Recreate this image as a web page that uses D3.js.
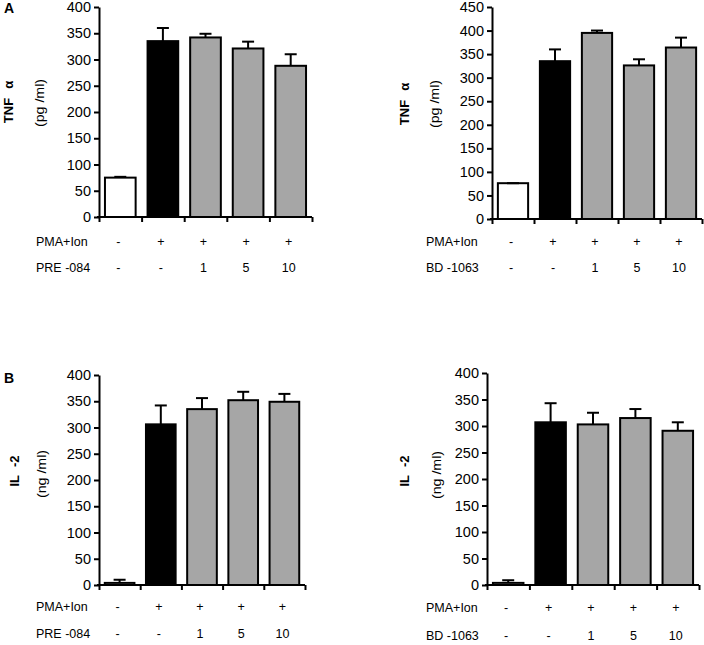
<!DOCTYPE html>
<html>
<head>
<meta charset="utf-8">
<script src="https://cdn.jsdelivr.net/npm/d3@7"></script>
<style>
  body { margin: 0; background: #fff; }
  svg text { font-family: "Liberation Sans", Arial, sans-serif; fill: #000; }
</style>
</head>
<body>
<svg id="chart" width="704" height="645"></svg>
<script>
// row labels under each chart
var pmaRow = ["-", "+", "+", "+", "+"];
var doseRow = ["-", "-", "1", "5", "10"];

// TNF alpha (pg/ml)
var tnfPre = [75, 335, 342, 321, 288];
var tnfPreErr = [1.5, 25, 7, 13, 22];
var tnfBd = [76, 335, 395, 326, 364];
var tnfBdErr = [0, 25, 5, 13, 21];

// IL-2 (ng/ml)
var il2Pre = [4, 306, 335, 352, 349];
var il2PreErr = [6, 36, 21, 16, 15];
var il2Bd = [4, 307, 303, 315, 291];
var il2BdErr = [5, 36, 22, 17, 16];

var barFill = ["#ffffff", "#000000", "#a6a6a6", "#a6a6a6", "#a6a6a6"];

var svg = d3.select("#chart");

function panel(p) {
    var g = svg.append("g");

    var x = d3.scaleBand()
        .domain(d3.range(5))
        .range([p.x0, p.x1])
        .paddingInner(0.28)
        .paddingOuter(0.14);

    var xt = d3.scaleLinear().domain([0, 5]).range([p.x0, p.x1]);

    var y = d3.scaleLinear()
        .domain([0, p.yMax])
        .range([p.yBottom, p.yTop]);

    // bars
    g.selectAll("rect.bar")
        .data(p.values)
        .enter()
        .append("rect")
        .attr("class", "bar")
        .attr("x", function(d, i) { return x(i); })
        .attr("y", function(d) { return y(d); })
        .attr("width", x.bandwidth())
        .attr("height", function(d) { return y(0) - y(d); })
        .attr("fill", function(d, i) { return barFill[i]; })
        .attr("stroke", "#000")
        .attr("stroke-width", 2);

    // error bars (upper only)
    var err = g.selectAll("g.err")
        .data(p.values)
        .enter()
        .append("g")
        .attr("class", "err");

    err.append("line")
        .attr("x1", function(d, i) { return x(i) + x.bandwidth() / 2; })
        .attr("x2", function(d, i) { return x(i) + x.bandwidth() / 2; })
        .attr("y1", function(d) { return y(d); })
        .attr("y2", function(d, i) { return y(d + p.errs[i]); })
        .attr("stroke", "#000")
        .attr("stroke-width", 2);

    err.append("line")
        .attr("x1", function(d, i) { return x(i) + x.bandwidth() / 2 - 6; })
        .attr("x2", function(d, i) { return x(i) + x.bandwidth() / 2 + 6; })
        .attr("y1", function(d, i) { return y(d + p.errs[i]); })
        .attr("y2", function(d, i) { return y(d + p.errs[i]); })
        .attr("stroke", "#000")
        .attr("stroke-width", 2);

    // y axis
    var yAxis = g.append("g")
        .attr("transform", "translate(" + p.x0 + ",0)")
        .call(d3.axisLeft(y)
            .tickValues(d3.range(0, p.yMax + 1, 50))
            .tickSize(5)
            .tickSizeOuter(0)
            .tickPadding(3));
    yAxis.selectAll("path, line").attr("stroke", "#000").attr("stroke-width", 2);
    yAxis.selectAll("text").style("font-size", "14.5px").attr("font-family", null);

    // x axis with ticks at band edges
    var xAxis = g.append("g")
        .attr("transform", "translate(0," + p.yBottom + ")")
        .call(d3.axisBottom(xt)
            .tickValues(d3.range(0, 6))
            .tickFormat("")
            .tickSize(5)
            .tickSizeOuter(0));
    xAxis.select("path.domain").attr("d", "M" + (p.x0 - 2) + ",0H" + p.x1);
    xAxis.selectAll("path, line").attr("stroke", "#000").attr("stroke-width", 2);

    // condition rows
    var rows = [[p.row1Label, pmaRow, p.row1Y], [p.row2Label, doseRow, p.row2Y]];
    rows.forEach(function(r) {
        g.append("text")
            .attr("x", p.labelX)
            .attr("y", r[2])
            .attr("dy", "0.35em")
            .style("font-size", "12.5px")
            .text(r[0]);
        g.selectAll(null)
            .data(r[1])
            .enter()
            .append("text")
            .attr("x", function(d, i) { return x(i) + x.bandwidth() / 2 - 2; })
            .attr("y", r[2])
            .attr("dy", "0.35em")
            .attr("text-anchor", "middle")
            .style("font-size", "12.5px")
            .text(function(d) { return d; });
    });

    // y titles
    var t = g.append("text")
        .attr("transform", "translate(" + p.titleX + "," + p.titleY + ") rotate(-90)")
        .attr("text-anchor", "middle")
        .style("font-size", "13px")
        .style("font-weight", "bold");
    t.append("tspan").text(p.title[0]);
    t.append("tspan").attr("dx", p.titleGap).text(p.title[1]);

    g.append("text")
        .attr("transform", "translate(" + p.unitX + "," + p.unitY + ") rotate(-90)")
        .attr("text-anchor", "middle")
        .attr("textLength", 48)
        .attr("lengthAdjust", "spacingAndGlyphs")
        .style("font-size", "12px")
        .text(p.unit);
}

panel({
    values: tnfPre, errs: tnfPreErr, yMax: 400,
    x0: 99, x1: 312, yTop: 7, yBottom: 217,
    labelX: 36, row1Y: 242, row2Y: 268,
    row1Label: "PMA+Ion", row2Label: "PRE -084",
    title: ["TNF", "\u03b1"], titleGap: 9, titleX: 13, titleY: 102,
    unit: "(pg /ml)", unitX: 44, unitY: 103
});

panel({
    values: tnfBd, errs: tnfBdErr, yMax: 450,
    x0: 492, x1: 702, yTop: 7, yBottom: 219,
    labelX: 426, row1Y: 242, row2Y: 268,
    row1Label: "PMA+Ion", row2Label: "BD -1063",
    title: ["TNF", "\u03b1"], titleGap: 9, titleX: 409, titleY: 104,
    unit: "(pg /ml)", unitX: 439, unitY: 104
});

panel({
    values: il2Pre, errs: il2PreErr, yMax: 400,
    x0: 99, x1: 305, yTop: 375, yBottom: 585,
    labelX: 36, row1Y: 607, row2Y: 634,
    row1Label: "PMA+Ion", row2Label: "PRE -084",
    title: ["IL", "-2"], titleGap: 8, titleX: 19, titleY: 471,
    unit: "(ng /ml)", unitX: 46, unitY: 474
});

panel({
    values: il2Bd, errs: il2BdErr, yMax: 400,
    x0: 487, x1: 699, yTop: 373, yBottom: 585,
    labelX: 426, row1Y: 608, row2Y: 636,
    row1Label: "PMA+Ion", row2Label: "BD -1063",
    title: ["IL", "-2"], titleGap: 8, titleX: 409, titleY: 471,
    unit: "(ng /ml)", unitX: 441, unitY: 475
});

// panel letters
svg.append("text").attr("x", 4).attr("y", 13)
    .style("font-size", "14px").style("font-weight", "bold").text("A");
svg.append("text").attr("x", 4).attr("y", 383)
    .style("font-size", "14px").style("font-weight", "bold").text("B");
</script>
</body>
</html>
